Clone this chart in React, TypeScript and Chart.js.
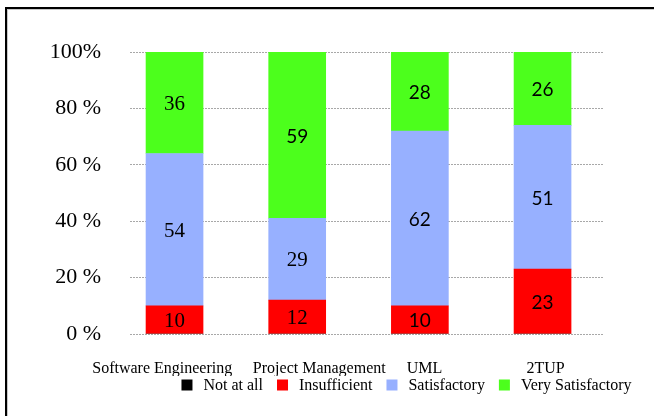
import React, { useEffect, useRef } from "react";
import { Chart, registerables } from "chart.js";

Chart.register(...registerables);

const categories = ["Software Engineering", "Project Management", "UML", "2TUP"];
const seriesNames = ["Not at all", "Insufficient", "Satisfactory", "Very Satisfactory"];
const notAtAll = [0, 0, 0, 0];
const insufficient = [10, 12, 10, 23];
const satisfactory = [54, 29, 62, 51];
const verySatisfactory = [36, 59, 28, 26];
const yTickValues = [0, 20, 40, 60, 80, 100];
const yTickLabels = ["0 %", "20 %", "40 %", "60 %", "80 %", "100%"];

const seriesColors = ["#000000", "#ff0000", "#97b0ff", "#4cff1c"];
// small horizontal shift of each category label, in category units (style)
const labelShift = [-0.1, 0.18, 0.037, 0.025];
// which value labels are typeset in the serif face: [categoryIndex][datasetIndex]
const serifLabel = [
  [true, true, true, true],
  [true, true, true, false],
  [false, false, false, false],
  [false, false, false, false],
];

const SERIF = '"Liberation Serif", "Times New Roman", serif';
const SANS = 'Lato, "Open Sans", sans-serif';

const valueLabels = {
  id: "valueLabels",
  afterDatasetsDraw(chart: any) {
    const ctx = chart.ctx;
    ctx.save();
    ctx.fillStyle = "#000";
    ctx.textAlign = "center";
    ctx.textBaseline = "middle";
    chart.data.datasets.forEach((ds: any, di: number) => {
      const meta = chart.getDatasetMeta(di);
      meta.data.forEach((el: any, i: number) => {
        const v = ds.data[i].y;
        if (!v) return;
        const serif = serifLabel[i][di];
        ctx.font = serif ? `21px ${SERIF}` : `19px ${SANS}`;
        ctx.fillText(String(v), el.x, (el.y + el.base) / 2 + 1.5);
      });
    });
    ctx.restore();
  },
};

const customLegend = {
  id: "customLegend",
  afterDraw(chart: any) {
    const ctx = chart.ctx;
    const box = 11;
    const boxGap = 11;
    const itemGap = 14;
    const y = 385;
    ctx.save();
    ctx.font = `16px ${SERIF}`;
    const widths = seriesNames.map((n) => ctx.measureText(n).width);
    const total =
      widths.reduce((a, w) => a + w + box + boxGap, 0) + itemGap * (seriesNames.length - 1);
    let x = 406.5 - total / 2;
    ctx.textBaseline = "middle";
    ctx.textAlign = "left";
    seriesNames.forEach((n, i) => {
      ctx.fillStyle = seriesColors[i];
      ctx.fillRect(x, y - box / 2, box, box);
      ctx.fillStyle = "#000";
      ctx.fillText(n, x + box + boxGap, y + 1);
      x += box + boxGap + widths[i] + itemGap;
    });
    ctx.restore();
  },
};

export default function App() {
  const ref = useRef<HTMLCanvasElement>(null);

  useEffect(() => {
    if (!ref.current) return;
    const series = [notAtAll, insufficient, satisfactory, verySatisfactory];
    const chart = new Chart(ref.current, {
      type: "bar",
      data: {
        datasets: series.map((vals, si) => ({
          label: seriesNames[si],
          data: vals.map((v, i) => ({ x: i, y: v })),
          backgroundColor: seriesColors[si],
          borderWidth: 0,
          barThickness: 57,
        })),
      },
      options: {
        responsive: false,
        animation: false,
        layout: { padding: { top: 52, right: 50, bottom: 40, left: 0 } },
        plugins: {
          legend: { display: false },
          tooltip: { enabled: false },
        },
        scales: {
          x: {
            type: "linear",
            stacked: true,
            offset: false,
            min: -0.363,
            max: 3.501,
            afterBuildTicks: (scale: any) => {
              scale.ticks = categories.map((_, i) => ({ value: i + labelShift[i] }));
            },
            afterFit: (scale: any) => {
              scale.height = 42;
            },
            grid: { display: false, drawTicks: false, offset: false },
            border: { display: false },
            ticks: {
              autoSkip: false,
              maxRotation: 0,
              minRotation: 0,
              padding: 25,
              color: "#000",
              font: { family: SERIF, size: 16 },
              callback: (_v: any, index: number) => categories[index] ?? "",
            },
          },
          y: {
            stacked: true,
            min: 0,
            max: 100,
            afterBuildTicks: (scale: any) => {
              scale.ticks = yTickValues.map((v) => ({ value: v }));
            },
            afterFit: (scale: any) => {
              scale.width = 130;
            },
            grid: {
              color: "#a8a8a8",
              lineWidth: 1,
              drawTicks: false,
            },
            border: { display: false, dash: [2, 1] },
            ticks: {
              padding: 29,
              color: "#000",
              font: { family: SERIF, size: 22 },
              callback: (v: any) => yTickLabels[yTickValues.indexOf(v)] ?? "",
            },
          },
        },
      },
      plugins: [valueLabels, customLegend],
    } as any);
    return () => chart.destroy();
  }, []);

  return (
    <div
      style={{
        position: "fixed",
        left: 0,
        top: 0,
        width: 654,
        height: 416,
        background: "#fff",
        overflow: "hidden",
      }}
    >
      <div
        style={{
          position: "absolute",
          left: 5,
          top: 7,
          width: 700,
          height: 500,
          borderLeft: "2px solid #000",
          borderTop: "2px solid #000",
        }}
      >
        <div
          style={{
            width: "100%",
            height: "100%",
            borderLeft: "1px solid #c8c8c8",
            borderTop: "1px solid #c8c8c8",
          }}
        />
      </div>
      <canvas
        ref={ref}
        width={654}
        height={416}
        style={{ position: "absolute", left: 0, top: 0, width: 654, height: 416 }}
      />
    </div>
  );
}
